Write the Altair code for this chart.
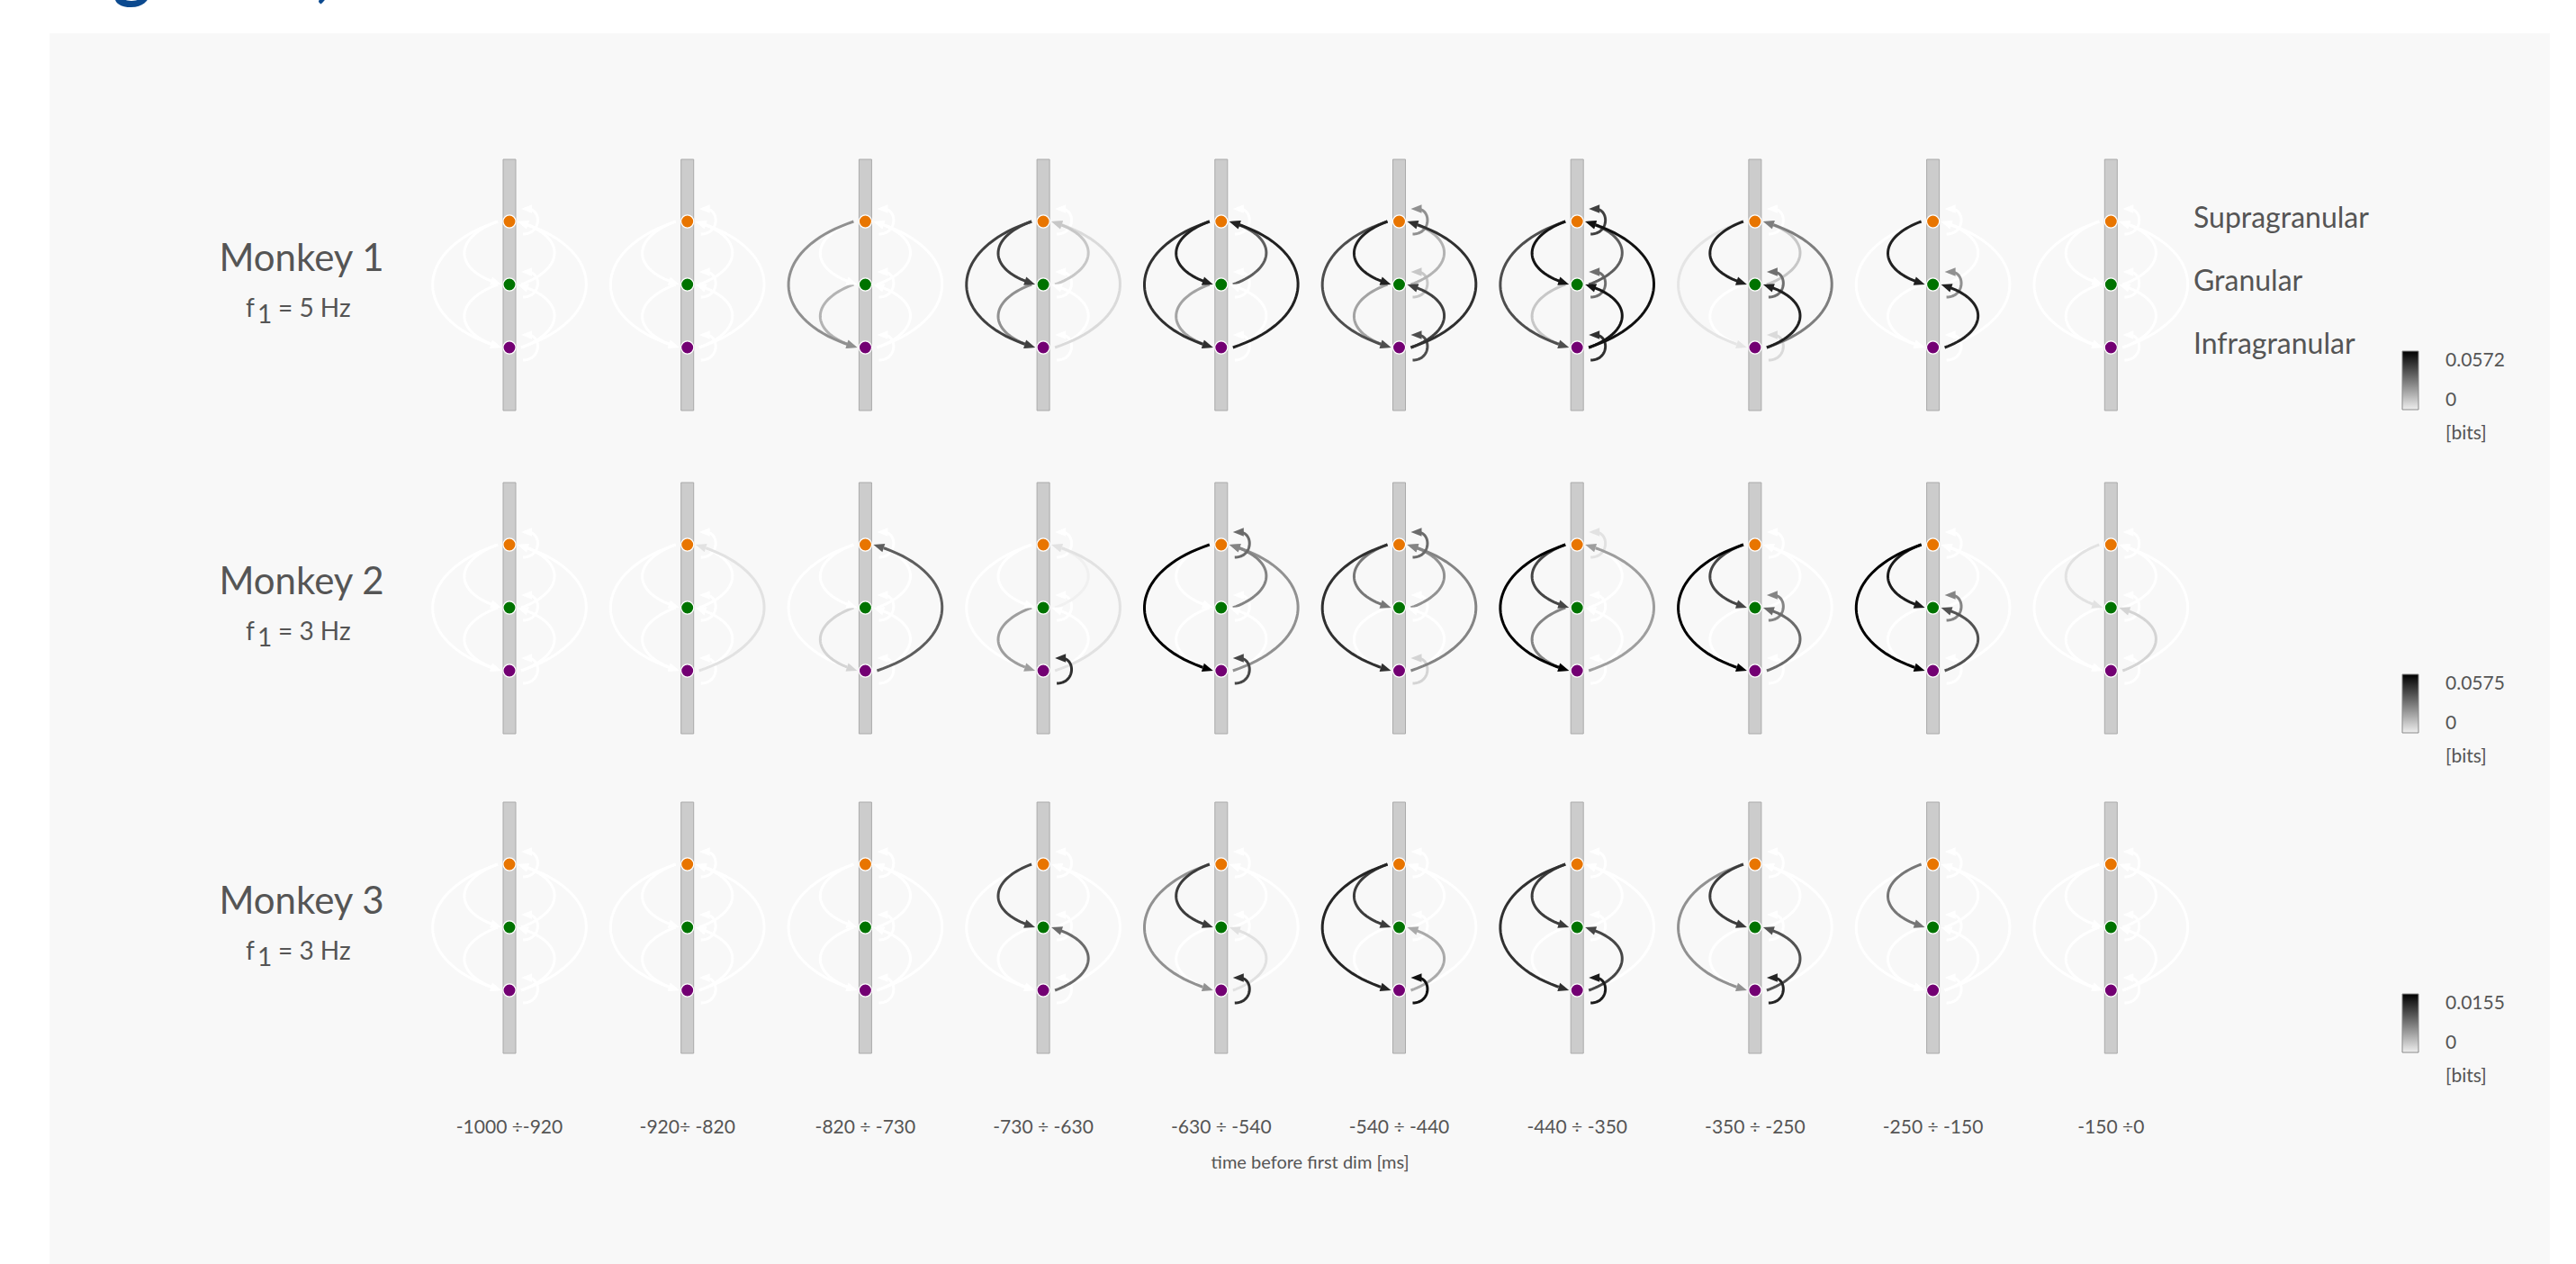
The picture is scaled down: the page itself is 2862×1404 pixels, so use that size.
import altair as alt
import numpy as np
import pandas as pd

alt.data_transformers.disable_max_rows()

# ---------------------------------------------------------------- data
WINDOWS = ["-1000 ÷-920", "-920÷ -820", "-820 ÷ -730", "-730 ÷ -630", "-630 ÷ -540",
           "-540 ÷ -440", "-440 ÷ -350", "-350 ÷ -250", "-250 ÷ -150", "-150 ÷0"]
MONKEYS = ["Monkey 1", "Monkey 2", "Monkey 3"]
F1_HZ = ["5", "3", "3"]
MAX_BITS = [0.0572, 0.0575, 0.0155]
LAYER_NAMES = ["Supragranular", "Granular", "Infragranular"]
LAYER_COLORS = ["#e87500", "#007300", "#730073"]

# directed links between layers (0 = supra, 1 = granular, 2 = infra)
# order: S->G, G->I, S->I, G->S, I->G, I->S, S->S, G->G, I->I
EDGES = [(0, 1), (1, 2), (0, 2), (1, 0), (2, 1), (2, 0), (0, 0), (1, 1), (2, 2)]

# transfer entropy [bits], one row of 9 links per time window
TE_MONKEY1 = [
    [0, 0, 0, 0, 0, 0, 0, 0, 0],
    [0, 0, 0, 0, 0, 0, 0, 0, 0],
    [0, 0.0154, 0.0229, 0, 0, 0, 0, 0, 0],
    [0.0418, 0.0229, 0.0418, 0.0114, 0, 0.0074, 0, 0, 0],
    [0.0498, 0.0189, 0.0458, 0.0343, 0, 0.0498, 0, 0, 0],
    [0.0498, 0.0189, 0.0383, 0.0154, 0.0418, 0.0458, 0.0229, 0.0114, 0.0383],
    [0.0532, 0.0114, 0.0383, 0.0343, 0.0532, 0.0543, 0.0418, 0.0303, 0.0458],
    [0.0498, 0, 0.0051, 0.0114, 0.0498, 0.0269, 0, 0.0303, 0.0074],
    [0.0498, 0, 0, 0, 0.0498, 0, 0, 0.0229, 0],
    [0, 0, 0, 0, 0, 0, 0, 0, 0],
]
TE_MONKEY2 = [
    [0, 0, 0, 0, 0, 0, 0, 0, 0],
    [0, 0, 0, 0, 0, 0.0058, 0, 0, 0],
    [0, 0.0086, 0, 0, 0, 0.0345, 0, 0, 0],
    [0, 0.0201, 0, 0.0029, 0, 0.0058, 0, 0, 0.0460],
    [0, 0, 0.0575, 0.0259, 0, 0.0230, 0.0316, 0, 0.0403],
    [0.0288, 0, 0.0460, 0.0230, 0, 0.0259, 0.0316, 0, 0.0086],
    [0.0403, 0.0259, 0.0575, 0, 0, 0.0201, 0.0058, 0, 0],
    [0.0403, 0, 0.0575, 0, 0.0316, 0, 0, 0.0259, 0],
    [0.0518, 0, 0.0575, 0, 0.0374, 0, 0, 0.0259, 0],
    [0.0058, 0, 0, 0, 0.0086, 0, 0, 0, 0],
]
TE_MONKEY3 = [
    [0, 0, 0, 0, 0, 0, 0, 0, 0],
    [0, 0, 0, 0, 0, 0, 0, 0, 0],
    [0, 0, 0, 0, 0, 0, 0, 0, 0],
    [0.0109, 0, 0, 0, 0.0085, 0, 0, 0, 0],
    [0.0116, 0, 0.0062, 0, 0.0016, 0, 0, 0, 0.0124],
    [0.0116, 0, 0.0132, 0, 0.0047, 0, 0, 0, 0.0147],
    [0.0116, 0, 0.0124, 0, 0.0109, 0, 0, 0, 0.0140],
    [0.0116, 0, 0.0062, 0, 0.0101, 0, 0, 0, 0.0132],
    [0.0078, 0, 0, 0, 0, 0, 0, 0, 0],
    [0, 0, 0, 0, 0, 0, 0, 0, 0],
]
TE = [TE_MONKEY1, TE_MONKEY2, TE_MONKEY3]

# ---------------------------------------------------------------- layout
W, H = 2862, 1404
COL_X = [566 + 197.7 * i for i in range(len(WINDOWS))]
ROW_Y = [246, 605, 960]          # y of the supragranular node in each row
NODE_GAP = 70
FONT = "Lato"
TEXT_GREY = "#555555"
RAMP = ["#ffffff", "#000000"]    # 0 bits -> white, row maximum -> black


def X(field="x"):
    return alt.X(f"{field}:Q", scale=alt.Scale(domain=[0, W], nice=False, zero=False), axis=None)


def Y(field="y"):
    return alt.Y(f"{field}:Q", scale=alt.Scale(domain=[0, H], reverse=True, nice=False, zero=False),
                 axis=None)


def bezier(p0, p1, p2, p3, n=40):
    t = np.linspace(0, 1, n)[:, None]
    p0, p1, p2, p3 = map(np.asarray, (p0, p1, p2, p3))
    pts = ((1 - t) ** 3) * p0 + 3 * ((1 - t) ** 2) * t * p1 + 3 * (1 - t) * t ** 2 * p2 + t ** 3 * p3
    return pts, t[:, 0]


def link_geometry(cx, ys, ye, s, t):
    if s == t:                                   # self loop on the right of the node
        p0 = (cx + 15, ys + 14)
        p1 = (cx + 36, ys + 14)
        p2 = (cx + 36, ys - 14)
        tip = (cx + 13, ys - 14)
    else:
        span = abs(ye - ys)
        k, d = (49, 18) if span < 100 else (96, 32)
        if s < t:                                # descending links on the left
            x0 = cx - 13
            p0 = (x0, ys)
            p1 = (x0 - k, ys + d)
            p2 = (x0 - k, ye - d)
            tip = (cx - 9, ye)
        else:                                    # ascending links on the right
            x0 = cx + 13
            p0 = (x0, ys)
            p1 = (x0 + k, ys - d)
            p2 = (x0 + k, ye + d)
            tip = (cx + 9, ye)
    u = np.asarray(tip, float) - np.asarray(p2, float)
    u = u / np.hypot(*u)
    end = np.asarray(tip) - u * 7
    pts, tt = bezier(p0, p1, p2, end)
    head = np.asarray(tip) - u * 6
    ang = np.degrees(np.arctan2(u[1], u[0])) % 360
    return pts, tt, head, ang


# ---------------------------------------------------------------- tables
probe_rows, node_rows = [], []
for r in range(len(MONKEYS)):
    for c, cx in enumerate(COL_X):
        probe_rows.append({"x": cx - 7, "x2": cx + 7, "y": ROW_Y[r] - 69, "y2": ROW_Y[r] + 210})
        for j in range(3):
            node_rows.append({"x": cx, "y": ROW_Y[r] + j * NODE_GAP, "col": LAYER_COLORS[j]})
probes = pd.DataFrame(probe_rows)
nodes = pd.DataFrame(node_rows)

ARROW = "M-1,-0.8L1,0L-1,0.8Z"

edge_layers = []
for r in range(len(MONKEYS)):
    line_rows, head_rows = [], []
    links = []
    for c, cx in enumerate(COL_X):
        for e, (s, t) in enumerate(EDGES):
            links.append((TE[r][c][e], c, e, cx, s, t))
    links.sort(key=lambda z: z[0])               # darker links drawn last
    for rank, (val, c, e, cx, s, t) in enumerate(links):
        ys = ROW_Y[r] + s * NODE_GAP
        ye = ROW_Y[r] + t * NODE_GAP
        pts, tt, head, ang = link_geometry(cx, ys, ye, s, t)
        for (px, py), ti in zip(pts, tt):
            line_rows.append({"x": px, "y": py, "t": ti, "eid": rank, "bits": val})
        head_rows.append({"x": head[0], "y": head[1], "ang": ang, "eid": rank, "bits": val})
    lines_df = pd.DataFrame(line_rows)
    heads_df = pd.DataFrame(head_rows)

    scale = alt.Scale(domain=[0, MAX_BITS[r]], range=RAMP)
    lines = alt.Chart(lines_df).mark_line(strokeWidth=3, strokeCap="butt").encode(
        x=X(), y=Y(), detail="eid:N", order="t:Q",
        color=alt.Color("bits:Q", scale=scale, legend=None),
    )
    heads = alt.Chart(heads_df).mark_point(
        shape=ARROW, filled=True, size=144, opacity=1, strokeWidth=0
    ).encode(
        x=X(), y=Y(), angle=alt.Angle("ang:Q", scale=None),
        fill=alt.Fill("bits:Q", scale=scale, legend=None),
    )
    edge_layers.append(alt.layer(lines, heads))

# ---------------------------------------------------------------- colour bars (one per monkey)
bar_df = pd.DataFrame([{"x": 2669, "x2": 2687, "y": ROW_Y[r] + 144, "y2": ROW_Y[r] + 209}
                       for r in range(3)])
grey_ramp = alt.Gradient(
    gradient="linear", x1=0, y1=0, x2=0, y2=1,
    stops=[alt.GradientStop(color=RAMP[1], offset=0), alt.GradientStop(color="#eeeeee", offset=1)],
)
colour_bars = alt.Chart(bar_df).mark_rect(fill=grey_ramp, stroke="#8a8a8a", strokeWidth=1).encode(
    x=X(), x2="x2:Q", y=Y(), y2="y2:Q"
)
top_lbl = pd.DataFrame([{"x": 2717, "y": ROW_Y[r] + 144, "text": f"{MAX_BITS[r]:g}"} for r in range(3)])
top_text = alt.Chart(top_lbl).mark_text(
    align="left", baseline="top", font=FONT, fontSize=21, color=TEXT_GREY
).encode(x=X(), y=Y(), text="text:N")
low_lbl = pd.DataFrame([{"x": 2717, "y": ROW_Y[r] + 209, "text": "0"} for r in range(3)])
low_text = alt.Chart(low_lbl).mark_text(
    align="left", baseline="bottom", font=FONT, fontSize=21, color=TEXT_GREY
).encode(x=X(), y=Y(), text="text:N")
bits_df = pd.DataFrame([{"x": 2717, "y": ROW_Y[r] + 236, "text": "[bits]"} for r in range(3)])
bits_text = alt.Chart(bits_df).mark_text(
    align="left", baseline="middle", font=FONT, fontSize=21, color=TEXT_GREY
).encode(x=X(), y=Y(), text="text:N")

# ---------------------------------------------------------------- static marks
panel = alt.Chart(pd.DataFrame([{"x": 55, "x2": 2833, "y": 37, "y2": H}])).mark_rect(
    fill="#f8f8f8"
).encode(x=X(), x2="x2:Q", y=Y(), y2="y2:Q")

probe_marks = alt.Chart(probes).mark_rect(fill="#cccccc", stroke="#aaaaaa", strokeWidth=1).encode(
    x=X(), x2="x2:Q", y=Y(), y2="y2:Q"
)

node_marks = alt.Chart(nodes).mark_point(
    shape="circle", filled=True, size=200, stroke="white", strokeWidth=1.2, opacity=1
).encode(x=X(), y=Y(), color=alt.Color("col:N", scale=None))

monkey_df = pd.DataFrame([{"x": 335, "y": ROW_Y[r] + 42, "text": MONKEYS[r]} for r in range(3)])
monkey_text = alt.Chart(monkey_df).mark_text(
    align="center", baseline="middle", font=FONT, fontSize=42, color=TEXT_GREY
).encode(x=X(), y=Y(), text="text:N")

f_df = pd.DataFrame([{"x": 273, "y": ROW_Y[r] + 106, "text": "f"} for r in range(3)])
f_text = alt.Chart(f_df).mark_text(
    align="left", baseline="alphabetic", font=FONT, fontSize=28, color=TEXT_GREY
).encode(x=X(), y=Y(), text="text:N")
sub_df = pd.DataFrame([{"x": 286, "y": ROW_Y[r] + 113, "text": "1"} for r in range(3)])
sub_text = alt.Chart(sub_df).mark_text(
    align="left", baseline="alphabetic", font=FONT, fontSize=28, color=TEXT_GREY
).encode(x=X(), y=Y(), text="text:N")
hz_df = pd.DataFrame([{"x": 309, "y": ROW_Y[r] + 106, "text": f"= {F1_HZ[r]} Hz"} for r in range(3)])
hz_text = alt.Chart(hz_df).mark_text(
    align="left", baseline="alphabetic", font=FONT, fontSize=28, color=TEXT_GREY
).encode(x=X(), y=Y(), text="text:N")

layer_df = pd.DataFrame([{"x": 2437, "y": ROW_Y[0] + j * NODE_GAP - 3, "text": LAYER_NAMES[j]}
                         for j in range(3)])
layer_text = alt.Chart(layer_df).mark_text(
    align="left", baseline="middle", font=FONT, fontSize=32, color=TEXT_GREY
).encode(x=X(), y=Y(), text="text:N")

win_df = pd.DataFrame([{"x": COL_X[c], "y": 1253, "text": WINDOWS[c]} for c in range(len(WINDOWS))])
win_text = alt.Chart(win_df).mark_text(
    align="center", baseline="middle", font=FONT, fontSize=21, color=TEXT_GREY
).encode(x=X(), y=Y(), text="text:N")

axis_df = pd.DataFrame([{"x": (COL_X[0] + COL_X[-1]) / 2, "y": 1292,
                         "text": "time before first dim [ms]"}])
axis_text = alt.Chart(axis_df).mark_text(
    align="center", baseline="middle", font=FONT, fontSize=20, color=TEXT_GREY
).encode(x=X(), y=Y(), text="text:N")

title_df = pd.DataFrame([{"x": 60, "y": -7, "text": "Figure 4,"}])
title_text = alt.Chart(title_df).mark_text(
    align="left", baseline="alphabetic", font=FONT, fontSize=80, fontWeight="bold", color="#0c4a8f"
).encode(x=X(), y=Y(), text="text:N")

chart = alt.layer(
    panel, title_text, probe_marks, *edge_layers, node_marks, colour_bars,
    monkey_text, f_text, sub_text, hz_text, layer_text, top_text, low_text, bits_text,
    win_text, axis_text,
).resolve_scale(color="independent", fill="independent").properties(
    width=W, height=H, padding=0, autosize="none", background="white"
).configure_view(stroke=None)

chart.save("out.html", embed_options={"renderer": "svg", "actions": False})
